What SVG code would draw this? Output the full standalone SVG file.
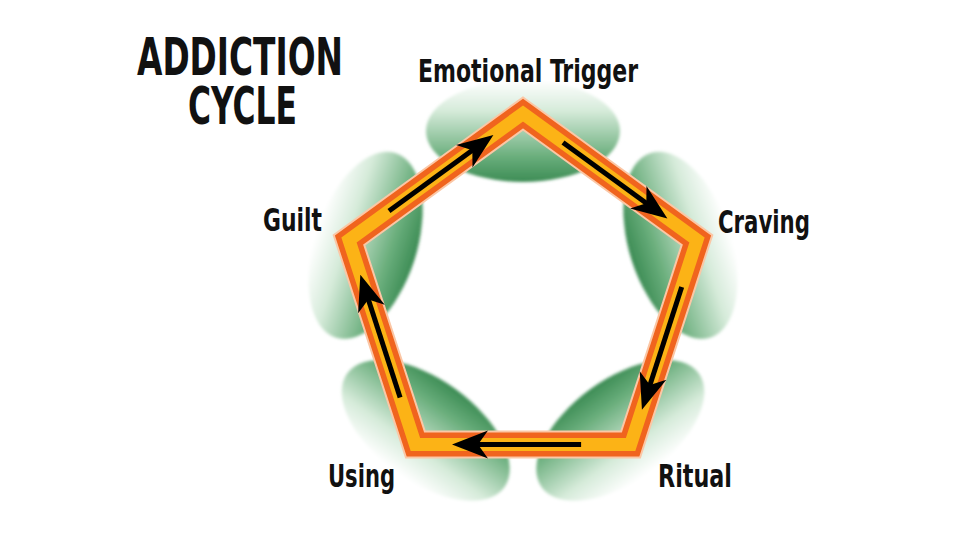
<svg xmlns="http://www.w3.org/2000/svg" width="960" height="540" viewBox="0 0 960 540">
<style>
.lbl{font-family:"DejaVu Sans","Liberation Sans",sans-serif;font-weight:bold;font-stretch:condensed;fill:#111;font-size:32px}
.ttl{font-family:"DejaVu Sans","Liberation Sans",sans-serif;font-weight:bold;font-stretch:condensed;fill:#111;font-size:52px}
.blob{fill:url(#g)}
.arr{fill:none;stroke:#000;stroke-width:5;marker-end:url(#ah)}
</style>
<defs>
<linearGradient id="g" x1="0" y1="0" x2="0" y2="1">
<stop offset="0" stop-color="#ffffff"/>
<stop offset="0.3" stop-color="#d6ebda"/>
<stop offset="0.75" stop-color="#6aae7c"/>
<stop offset="1" stop-color="#3c8c54"/>
</linearGradient>
<filter id="soft" x="-10%" y="-10%" width="120%" height="120%"><feGaussianBlur stdDeviation="1.5"/></filter>
<marker id="ah" markerUnits="userSpaceOnUse" viewBox="0 -16 38 32" refX="16" refY="0" markerWidth="38" markerHeight="32" orient="auto">
<path d="M36,0 L0,-14 L10,0 L0,14 Z" fill="#000"/>
</marker>
</defs>
<rect width="960" height="540" fill="#fff"/>
<g id="title">
<text class="ttl"><tspan x="137" y="75" textLength="206" lengthAdjust="spacingAndGlyphs">ADDICTION</tspan><tspan x="188" y="124" textLength="109" lengthAdjust="spacingAndGlyphs">CYCLE</tspan></text>
</g>
<g id="node-trigger">
<ellipse class="blob" filter="url(#soft)" cx="523" cy="131" rx="97" ry="51"/>
<text class="lbl" x="418" y="82" textLength="220" lengthAdjust="spacingAndGlyphs">Emotional Trigger</text>
</g>
<g id="node-craving">
<ellipse class="blob" filter="url(#soft)" cx="523" cy="131" rx="97" ry="51" transform="rotate(72 523 296.5)"/>
<text class="lbl" x="718" y="233" textLength="92" lengthAdjust="spacingAndGlyphs">Craving</text>
</g>
<g id="node-ritual">
<ellipse class="blob" filter="url(#soft)" cx="523" cy="131" rx="97" ry="51" transform="rotate(144 523 296.5)"/>
<text class="lbl" x="658" y="487" textLength="74" lengthAdjust="spacingAndGlyphs">Ritual</text>
</g>
<g id="node-using">
<ellipse class="blob" filter="url(#soft)" cx="523" cy="131" rx="97" ry="51" transform="rotate(216 523 296.5)"/>
<text class="lbl" x="328" y="487" textLength="67" lengthAdjust="spacingAndGlyphs">Using</text>
</g>
<g id="node-guilt">
<ellipse class="blob" filter="url(#soft)" cx="523" cy="131" rx="97" ry="51" transform="rotate(288 523 296.5)"/>
<text class="lbl" x="263" y="231" textLength="59" lengthAdjust="spacingAndGlyphs">Guilt</text>
</g>
<g id="connectors">
<polygon points="523,113.5 697,240 630.6,444.5 415.4,444.5 349,240" fill="none" stroke="#fbc7a6" stroke-width="28" stroke-linejoin="miter"/>
<polygon points="523,113.5 697,240 630.6,444.5 415.4,444.5 349,240" fill="none" stroke="#f0641e" stroke-width="24" stroke-linejoin="miter"/>
<polygon points="523,113.5 697,240 630.6,444.5 415.4,444.5 349,240" fill="none" stroke="#fcb316" stroke-width="13" stroke-linejoin="miter"/>
<path class="arr" d="M389,210.9 L477.2,146.8"/>
<path class="arr" d="M563,142.6 L651.2,206.7"/>
<path class="arr" d="M681.7,287 L648.1,390.7"/>
<path class="arr" d="M581.1,444.5 L472,444.5"/>
<path class="arr" d="M400.1,397.5 L366.5,293.8"/>
</g>
</svg>
